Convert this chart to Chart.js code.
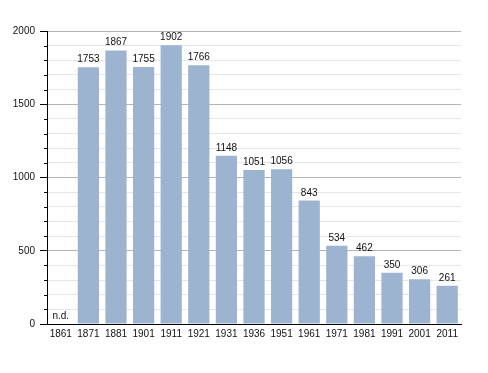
<!DOCTYPE html>
<html>
<head>
<meta charset="utf-8">
<script src="https://cdn.jsdelivr.net/npm/chart.js@4/dist/chart.umd.min.js"></script>
<style>
  html, body { margin: 0; padding: 0; background: #fff; }
  #wrap { width: 488px; height: 373px; }
</style>
</head>
<body>
<div id="wrap"><canvas id="chart"></canvas></div>
<script>
const years = ['1861', '1871', '1881', '1901', '1911', '1921', '1931', '1936', '1951', '1961', '1971', '1981', '1991', '2001', '2011'];
const population = [null, 1753, 1867, 1755, 1902, 1766, 1148, 1051, 1056, 843, 534, 462, 350, 306, 261];
const yTicks = [0, 500, 1000, 1500, 2000];

const FONT = '"Liberation Sans", Arial, sans-serif';
const isMajor = (v) => yTicks.includes(v);

// bar values on top, "n.d." where there is no data
const valueLabels = {
  id: 'valueLabels',
  afterDatasetsDraw(chart) {
    const { ctx, scales } = chart;
    const meta = chart.getDatasetMeta(0);
    ctx.save();
    ctx.font = '10px ' + FONT;
    ctx.fillStyle = '#111';
    ctx.textAlign = 'center';
    ctx.textBaseline = 'alphabetic';
    population.forEach((v, i) => {
      if (v == null) {
        const x = scales.x.getPixelForValue(i);
        ctx.fillText('n.d.', x, scales.y.getPixelForValue(0) - 5);
        return;
      }
      const bar = meta.data[i];
      ctx.fillText(String(v), bar.x, bar.y - 5);
    });
    ctx.restore();
  },
};

// short ticks for the minor steps
const minorTicks = {
  id: 'minorTicks',
  afterDraw(chart) {
    const { ctx, scales, chartArea } = chart;
    ctx.save();
    ctx.strokeStyle = '#000';
    ctx.lineWidth = 1;
    scales.y.ticks.forEach((t) => {
      if (isMajor(t.value)) return;
      const y = Math.round(scales.y.getPixelForValue(t.value)) + 0.5;
      ctx.beginPath();
      ctx.moveTo(chartArea.left - 3, y);
      ctx.lineTo(chartArea.left, y);
      ctx.stroke();
    });
    ctx.restore();
  },
};

new Chart(document.getElementById('chart'), {
  type: 'bar',
  data: {
    labels: years,
    datasets: [{
      data: population,
      backgroundColor: '#9cb4cf',
      categoryPercentage: 1,
      barPercentage: 0.77,
    }],
  },
  options: {
    responsive: true,
    maintainAspectRatio: false,
    animation: false,
    layout: { padding: { top: 31, right: 27, bottom: 29, left: 0 } },
    plugins: {
      legend: { display: false },
      tooltip: { enabled: false },
    },
    scales: {
      x: {
        grid: { display: false, drawTicks: false },
        border: { color: '#000', width: 1 },
        ticks: { color: '#111', font: { family: FONT, size: 10 }, padding: 4, maxRotation: 0, autoSkip: false },
        afterFit: (s) => { s.height = 20; },
      },
      y: {
        min: 0,
        max: 2000,
        grid: {
          color: (c) => (isMajor(c.tick.value) ? '#b4b4b4' : '#e6e6e6'),
          tickColor: (c) => (isMajor(c.tick.value) ? '#000' : 'rgba(0,0,0,0)'),
          tickLength: 7,
        },
        border: { color: '#000', width: 1 },
        ticks: {
          stepSize: 100,
          autoSkip: false,
          color: '#111',
          font: { family: FONT, size: 10 },
          padding: 5,
          callback: (v) => (isMajor(v) ? String(v) : ''),
        },
        afterFit: (s) => { s.width = 47; },
      },
    },
  },
  plugins: [valueLabels, minorTicks],
});
</script>
</body>
</html>
